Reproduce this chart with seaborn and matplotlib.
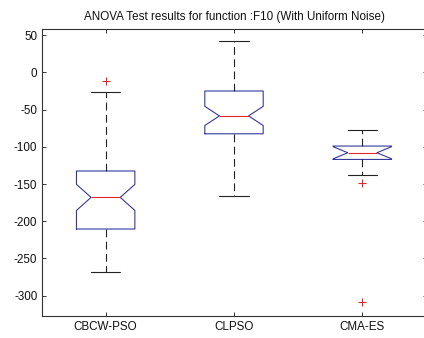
import numpy as np
import pandas as pd
import matplotlib
matplotlib.use("Agg")
import matplotlib.pyplot as plt
import seaborn as sns

title = "ANOVA Test results for function :F10 (With Uniform Noise)"
algorithms = ["CBCW-PSO", "CLPSO", "CMA-ES"]

cbcw_pso = [-268.5, -259, -251, -246, -240, -236, -231, -227, -222, -219, -215, -212,
            -210.5, -206, -203, -199, -195, -191, -187, -183, -179, -176, -173, -170,
            -168, -165, -162, -159, -156, -153, -150, -147, -144, -141, -138, -135,
            -132.5, -124, -113, -102, -91, -80, -69, -57, -46, -38, -31, -26, -12]
clpso = [-166, -150, -138, -127, -118, -110, -103, -98, -94, -90, -87, -84,
         -82.5, -80, -78, -76, -74, -72, -70, -68, -66, -64, -62, -60,
         -58.5, -56, -53, -50, -47, -44, -41, -38, -35, -32, -29, -27,
         -25, -20, -15, -10, -5, 0, 5, 10, 17, 24, 31, 37, 42.5]
cma_es = [-309, -148, -138.5, -109.8, -109.5, -108.5, -107.5, -104, -100, -96, -88, -78]

yticks = [50, 0, -50, -100, -150, -200, -250, -300]

df = pd.DataFrame({
    "algo": ["CBCW-PSO"] * len(cbcw_pso) + ["CLPSO"] * len(clpso) + ["CMA-ES"] * len(cma_es),
    "value": cbcw_pso + clpso + cma_es,
})

sns.set_style("ticks")
plt.rcParams["font.family"] = ["Liberation Sans", "DejaVu Sans"]
plt.rcParams["axes.unicode_minus"] = False

fig = plt.figure(figsize=(4.24, 3.38), dpi=100, facecolor="white")
ax = fig.add_axes([41.5 / 424, 1 - 315.7 / 338, (426.5 - 41.5) / 424, (315.7 - 28.5) / 338])

box_c = "#35399e"
sns.boxplot(
    data=df, x="algo", y="value", order=algorithms, ax=ax,
    width=0.455, fill=False, shownotches=True, whis=1.5,
    linewidth=0.8,
    boxprops=dict(color=box_c, linewidth=0.8),
    medianprops=dict(color="#e02828", linewidth=0.8),
    whiskerprops=dict(color="#222222", linewidth=0.8, linestyle=(0, (7, 4))),
    capprops=dict(color="#222222", linewidth=0.8),
    flierprops=dict(marker="+", markeredgecolor="#e02828", markerfacecolor="#e02828",
                    markersize=6, markeredgewidth=0.8, linestyle="none"),
)

ax.set_xlim(-0.5, 2.5)
ax.set_ylim(-327, 59)
ax.set_yticks(yticks)
ax.set_yticklabels([str(v) for v in yticks])
ax.set_xlabel("")
ax.set_ylabel("")
ax.set_title(title, fontsize=8.4, color="#111111", pad=6)

for s in ax.spines.values():
    s.set_visible(True)
    s.set_color("#333333")
    s.set_linewidth(0.8)
ax.tick_params(axis="both", direction="in", length=3.2, width=0.7, colors="#333333",
               labelsize=8.4, labelcolor="#111111", top=True, right=True, pad=3)
ax.tick_params(axis="x", pad=3.5)

fig.savefig("out.png", dpi=100, facecolor="white")
